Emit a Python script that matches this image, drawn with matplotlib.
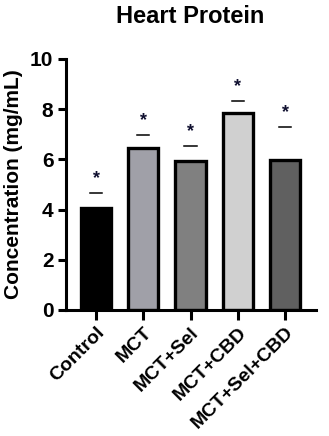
import matplotlib
matplotlib.use("Agg")
import matplotlib.pyplot as plt

categories = ["Control", "MCT", "MCT+Sel", "MCT+CBD", "MCT+Sel+CBD"]
values = [4.05, 6.47, 5.92, 7.85, 5.97]
sig_line = [4.67, 6.97, 6.53, 8.34, 7.29]
sig_label = ["*", "*", "*", "*", "*"]
colors = ["#000000", "#A0A0A8", "#808080", "#D0D0D0", "#606060"]
yticks = [0, 2, 4, 6, 8, 10]

plt.rcParams['font.family'] = ['Liberation Sans', 'DejaVu Sans']
plt.rcParams['font.weight'] = 'bold'

fig = plt.figure(figsize=(3.29, 4.36), dpi=100)
ax = fig.add_axes([0.2006, 0.289, 0.76, 0.5757])

x = list(range(len(categories)))
ax.bar(x, values, width=0.64, color=colors, edgecolor="black", linewidth=2.4, zorder=2)

for xi, ly, lab in zip(x, sig_line, sig_label):
    ax.plot([xi - 0.13, xi + 0.13], [ly, ly], color="black", lw=1.1, zorder=3)
    ax.text(xi, ly + 0.22, lab, ha="center", va="bottom", fontsize=13, fontweight="bold", color="#101030")

ax.set_xlim(-0.635, 4.656)
ax.set_ylim(0, 10)
ax.set_yticks(yticks)
ax.set_yticklabels([str(t) for t in yticks], fontsize=15, fontweight="bold")
ax.set_xticks(x)
ax.set_xticklabels(categories, rotation=45, ha="right", rotation_mode="anchor", fontsize=14, fontweight="bold")

for s in ["top", "right"]:
    ax.spines[s].set_visible(False)
for s in ["left", "bottom"]:
    ax.spines[s].set_linewidth(2.2)
ax.tick_params(axis="y", width=2.2, length=6, pad=3)
ax.tick_params(axis="x", width=2.2, length=7, pad=3)

ax.set_ylabel("Concentration (mg/mL)", fontsize=15, fontweight="bold", labelpad=5)
fig.text(0.578, 0.962, "Heart Protein", ha="center", va="center", fontsize=17, fontweight="bold")

fig.savefig("out.png", dpi=100)
